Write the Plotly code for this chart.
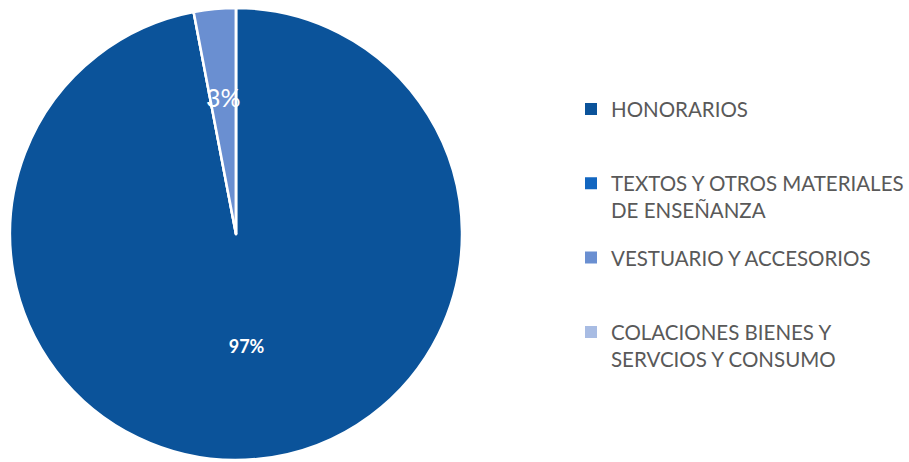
import math
import plotly.graph_objects as go

categories = ["HONORARIOS", "TEXTOS Y OTROS MATERIALES DE ENSEÑANZA",
              "VESTUARIO Y ACCESORIOS", "COLACIONES BIENES Y SERVCIOS Y CONSUMO"]
legend_labels = ["HONORARIOS<br> ", "TEXTOS Y OTROS MATERIALES<br>DE ENSEÑANZA",
                 "VESTUARIO Y ACCESORIOS<br> ", "COLACIONES BIENES Y<br>SERVCIOS Y CONSUMO"]
values = [97, 0, 3, 0]
slice_text = ["<b>97%</b>", "", "", ""]
big_label = ["", "", "3%", ""]
colors = ["#0b539a", "#1266c0", "#6a8fd1", "#a8bce3"]

W, H = 909, 462
dom_x = [10 / W, 462 / W]
dom_y = [1 / H, 455 / H]

fig = go.Figure()
fig.add_trace(go.Pie(
    labels=categories, values=values, text=slice_text, textinfo="text",
    sort=False, direction="clockwise", rotation=0,
    marker=dict(colors=colors, line=dict(color="white", width=2.5)),
    textposition="inside", insidetextorientation="horizontal",
    textfont=dict(color="white", family="Lato", size=18),
    showlegend=False, hoverinfo="label+percent",
    domain=dict(x=dom_x, y=dom_y),
))

# label for the thin slice, placed at its mid-angle (derived from the values)
total = sum(values)
cx_px = (dom_x[0] + dom_x[1]) / 2 * W
cy_px = (dom_y[0] + dom_y[1]) / 2 * H
R = min((dom_x[1] - dom_x[0]) * W, (dom_y[1] - dom_y[0]) * H) / 2
cum = 0
for v, lab in zip(values, big_label):
    if lab:
        theta = 2 * math.pi * (cum + v / 2) / total
        px = cx_px + 0.61 * R * math.sin(theta)
        py = cy_px + 0.61 * R * math.cos(theta)
        fig.add_annotation(x=px / W, y=py / H, xref="paper", yref="paper",
                           xanchor="center", yanchor="middle",
                           text=lab, showarrow=False,
                           font=dict(family="Lato", size=25, color="white"))
    cum += v

for lab, col in zip(legend_labels, colors):
    fig.add_trace(go.Scatter(
        x=[None], y=[None], mode="markers", name=lab,
        marker=dict(symbol="square", size=8, color=col),
        legendgroup=lab, showlegend=True,
    ))

fig.update_layout(
    width=W, height=H,
    margin=dict(l=0, r=0, t=0, b=0),
    paper_bgcolor="white", plot_bgcolor="white",
    xaxis=dict(visible=False), yaxis=dict(visible=False),
    legend=dict(
        x=571 / W, xanchor="left", y=0.807, yanchor="top",
        valign="top", traceorder="grouped", tracegroupgap=18,
        font=dict(family="Lato", size=20.5, color="#595959"),
        itemsizing="constant",
    ),
)

fig.write_html("out.html", config={"displayModeBar": False},
               post_script="document.body.style.margin='0';")
